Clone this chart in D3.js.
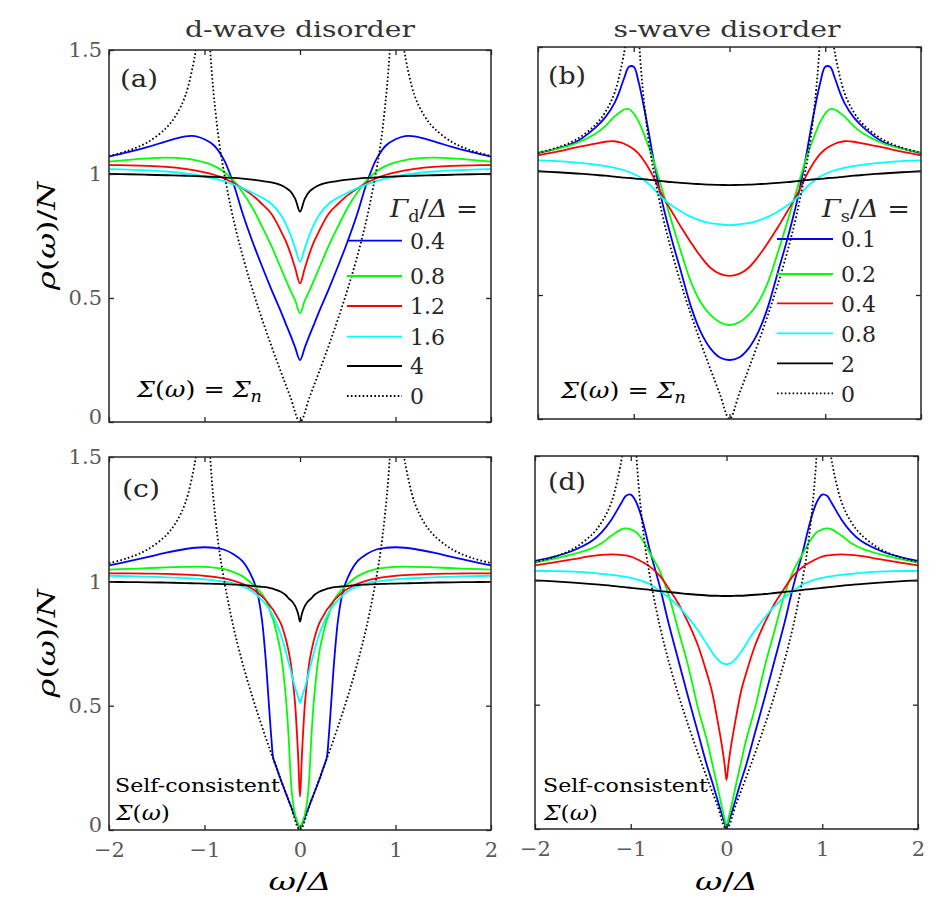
<!DOCTYPE html>
<html><head><meta charset="utf-8">
<script src="https://cdn.jsdelivr.net/npm/d3@7"></script>
<style>body{margin:0;background:#fff}svg{display:block}svg text{font-family:"DejaVu Serif",serif}</style>
</head><body>
<script>
// ---------------- DATA ----------------
const xTicks = [-2, -1, 0, 1, 2];
const yTicks = [0, 0.5, 1, 1.5];
const titles = ["d-wave disorder", "s-wave disorder"];
const legendA = ["0.4", "0.8", "1.2", "1.6", "4", "0"];
const legendB = ["0.1", "0.2", "0.4", "0.8", "2", "0"];
const seriesColors = ["#0000ff", "#00ff00", "#ff0000", "#00ffff", "#000000"];

// clean d-wave DOS (dotted, Gamma = 0), same in all panels
const omegaClean = [-2,-1.8,-1.6,-1.4,-1.3,-1.2,-1.1,-1.08,-1.05,-1.03,-0.97,-0.95,-0.93,-0.9,-0.85,-0.8,-0.7,-0.6,-0.5,-0.4,-0.3,-0.2,-0.1,0,0.1,0.2,0.3,0.4,0.5,0.6,0.7,0.8,0.85,0.9,0.93,0.95,0.97,1.03,1.05,1.08,1.1,1.2,1.3,1.4,1.6,1.8,2];
const rhoClean = [1.073,1.094,1.127,1.186,1.236,1.316,1.478,1.536,1.66,1.807,1.746,1.566,1.441,1.307,1.138,1.016,0.822,0.669,0.537,0.418,0.307,0.202,0.1,0,0.1,0.202,0.307,0.418,0.537,0.669,0.822,1.016,1.138,1.307,1.441,1.566,1.746,1.807,1.66,1.536,1.478,1.316,1.236,1.186,1.127,1.094,1.073];

// (a) d-wave disorder, Sigma = Sigma_n
const omegaA = [-2,-1.8,-1.6,-1.4,-1.2,-1.1,-1,-0.9,-0.8,-0.7,-0.6,-0.5,-0.4,-0.3,-0.2,-0.15,-0.1,-0.05,0,0.05,0.1,0.15,0.2,0.3,0.4,0.5,0.6,0.7,0.8,0.9,1,1.1,1.2,1.4,1.6,1.8,2];
const a_04 = [1.07,1.088,1.108,1.132,1.152,1.153,1.14,1.115,1.06,0.965,0.84,0.73,0.63,0.535,0.445,0.397,0.35,0.30,0.25,0.30,0.35,0.397,0.445,0.535,0.63,0.73,0.84,0.965,1.06,1.115,1.14,1.153,1.152,1.132,1.108,1.088,1.07];
const a_08 = [1.05,1.057,1.063,1.066,1.062,1.056,1.047,1.033,1.01,0.975,0.925,0.865,0.79,0.71,0.62,0.575,0.53,0.49,0.438,0.49,0.53,0.575,0.62,0.71,0.79,0.865,0.925,0.975,1.01,1.033,1.047,1.056,1.062,1.066,1.063,1.057,1.05];
const a_12 = [1.036,1.035,1.033,1.029,1.021,1.015,1.007,0.997,0.983,0.965,0.942,0.915,0.88,0.84,0.77,0.73,0.68,0.62,0.559,0.62,0.68,0.73,0.77,0.84,0.88,0.915,0.942,0.965,0.983,0.997,1.007,1.015,1.021,1.029,1.033,1.035,1.036];
const a_16 = [1.02,1.018,1.015,1.01,1.002,0.997,0.99,0.982,0.971,0.958,0.943,0.925,0.905,0.88,0.835,0.80,0.755,0.70,0.646,0.70,0.755,0.80,0.835,0.88,0.905,0.925,0.943,0.958,0.971,0.982,0.99,0.997,1.002,1.01,1.015,1.018,1.02];
const a_4 = [1.0,0.999,0.997,0.995,0.993,0.992,0.99,0.988,0.986,0.984,0.981,0.977,0.972,0.966,0.955,0.945,0.93,0.90,0.848,0.90,0.93,0.945,0.955,0.966,0.972,0.977,0.981,0.984,0.986,0.988,0.99,0.992,0.993,0.995,0.997,0.999,1.0];

// (b) s-wave disorder, Sigma = Sigma_n
const omegaB = [-2,-1.8,-1.6,-1.4,-1.3,-1.2,-1.15,-1.1,-1.05,-1,-0.95,-0.9,-0.85,-0.8,-0.7,-0.6,-0.5,-0.4,-0.3,-0.2,-0.1,0,0.1,0.2,0.3,0.4,0.5,0.6,0.7,0.8,0.85,0.9,0.95,1,1.05,1.1,1.15,1.2,1.3,1.4,1.6,1.8,2];
const b_01 = [1.072,1.091,1.118,1.175,1.215,1.275,1.32,1.375,1.42,1.42,1.36,1.27,1.17,1.06,0.87,0.72,0.585,0.45,0.35,0.285,0.248,0.238,0.248,0.285,0.35,0.45,0.585,0.72,0.87,1.06,1.17,1.27,1.36,1.42,1.42,1.375,1.32,1.275,1.215,1.175,1.118,1.091,1.072];
const b_02 = [1.075,1.09,1.112,1.15,1.18,1.22,1.235,1.248,1.25,1.232,1.2,1.155,1.105,1.05,0.92,0.79,0.665,0.55,0.47,0.42,0.39,0.379,0.39,0.42,0.47,0.55,0.665,0.79,0.92,1.05,1.105,1.155,1.2,1.232,1.25,1.248,1.235,1.22,1.18,1.15,1.112,1.09,1.075];
const b_04 = [1.063,1.078,1.095,1.11,1.118,1.12,1.116,1.11,1.1,1.088,1.07,1.045,1.015,0.98,0.9,0.835,0.77,0.71,0.655,0.61,0.585,0.577,0.585,0.61,0.655,0.71,0.77,0.835,0.9,0.98,1.015,1.045,1.07,1.088,1.1,1.11,1.116,1.12,1.118,1.11,1.095,1.078,1.063];
const b_08 = [1.043,1.04,1.034,1.026,1.02,1.013,1.008,1.003,0.996,0.988,0.978,0.965,0.95,0.932,0.89,0.86,0.836,0.815,0.8,0.79,0.785,0.782,0.785,0.79,0.8,0.815,0.836,0.86,0.89,0.932,0.95,0.965,0.978,0.988,0.996,1.003,1.008,1.013,1.02,1.026,1.034,1.04,1.043];
const b_2 = [0.999,0.995,0.99,0.984,0.981,0.977,0.975,0.973,0.972,0.97,0.968,0.967,0.965,0.963,0.959,0.955,0.952,0.949,0.947,0.945,0.944,0.943,0.944,0.945,0.947,0.949,0.952,0.955,0.959,0.963,0.965,0.967,0.968,0.97,0.972,0.973,0.975,0.977,0.981,0.984,0.99,0.995,0.999];

// (c) d-wave disorder, self-consistent
const omegaC = [-2,-1.8,-1.6,-1.4,-1.2,-1.1,-1,-0.9,-0.8,-0.7,-0.6,-0.5,-0.45,-0.4,-0.36,-0.33,-0.3,-0.28,-0.25,-0.2,-0.15,-0.12,-0.1,-0.08,-0.05,-0.02,0,0.02,0.05,0.08,0.1,0.12,0.15,0.2,0.25,0.28,0.3,0.33,0.36,0.4,0.45,0.5,0.6,0.7,0.8,0.9,1,1.1,1.2,1.4,1.6,1.8,2];
const c_04 = [1.064,1.08,1.097,1.115,1.13,1.135,1.137,1.135,1.128,1.11,1.08,1.015,0.96,0.85,0.69,0.53,0.37,0.29,0.256,0.2,0.15,0.12,0.1,0.08,0.05,0.02,0,0.02,0.05,0.08,0.1,0.12,0.15,0.2,0.256,0.29,0.37,0.53,0.69,0.85,0.96,1.015,1.08,1.11,1.128,1.135,1.137,1.135,1.13,1.115,1.097,1.08,1.064];
const c_08 = [1.047,1.05,1.053,1.056,1.058,1.059,1.058,1.055,1.05,1.038,1.02,0.99,0.97,0.95,0.925,0.9,0.865,0.845,0.8,0.71,0.54,0.38,0.23,0.13,0.06,0.025,0,0.025,0.06,0.13,0.23,0.38,0.54,0.71,0.8,0.845,0.865,0.9,0.925,0.95,0.97,0.99,1.02,1.038,1.05,1.055,1.058,1.059,1.058,1.056,1.053,1.05,1.047];
const c_12 = [1.032,1.032,1.031,1.03,1.027,1.025,1.022,1.018,1.012,1.003,0.99,0.97,0.957,0.94,0.925,0.91,0.895,0.885,0.865,0.83,0.77,0.72,0.68,0.62,0.5,0.3,0.134,0.3,0.5,0.62,0.68,0.72,0.77,0.83,0.865,0.885,0.895,0.91,0.925,0.94,0.957,0.97,0.99,1.003,1.012,1.018,1.022,1.025,1.027,1.03,1.031,1.032,1.032];
const c_16 = [1.022,1.021,1.019,1.016,1.013,1.011,1.008,1.004,0.999,0.992,0.98,0.96,0.945,0.925,0.908,0.893,0.875,0.86,0.835,0.785,0.72,0.675,0.645,0.615,0.57,0.535,0.512,0.535,0.57,0.615,0.645,0.675,0.72,0.785,0.835,0.86,0.875,0.893,0.908,0.925,0.945,0.96,0.98,0.992,0.999,1.004,1.008,1.011,1.013,1.016,1.019,1.021,1.022];
const c_4 = [0.998,0.997,0.996,0.995,0.993,0.992,0.991,0.99,0.989,0.987,0.985,0.982,0.98,0.978,0.977,0.975,0.972,0.97,0.966,0.958,0.945,0.932,0.925,0.918,0.9,0.87,0.838,0.87,0.9,0.918,0.925,0.932,0.945,0.958,0.966,0.97,0.972,0.975,0.977,0.978,0.98,0.982,0.985,0.987,0.989,0.99,0.991,0.992,0.993,0.995,0.996,0.997,0.998];

// (d) s-wave disorder, self-consistent
const omegaD = [-2,-1.8,-1.6,-1.4,-1.3,-1.2,-1.1,-1.05,-1,-0.95,-0.9,-0.85,-0.8,-0.7,-0.6,-0.5,-0.4,-0.3,-0.2,-0.15,-0.1,-0.05,-0.02,0,0.02,0.05,0.1,0.15,0.2,0.3,0.4,0.5,0.6,0.7,0.8,0.85,0.9,0.95,1,1.05,1.1,1.2,1.3,1.4,1.6,1.8,2];
const d_01 = [1.078,1.095,1.12,1.16,1.195,1.245,1.31,1.34,1.345,1.32,1.27,1.2,1.12,0.98,0.82,0.675,0.53,0.39,0.25,0.19,0.125,0.06,0.025,0,0.025,0.06,0.125,0.19,0.25,0.39,0.53,0.675,0.82,0.98,1.12,1.2,1.27,1.32,1.345,1.34,1.31,1.245,1.195,1.16,1.12,1.095,1.078];
const d_02 = [1.071,1.087,1.105,1.13,1.15,1.18,1.205,1.209,1.205,1.195,1.175,1.145,1.11,1.04,0.935,0.795,0.655,0.49,0.35,0.265,0.18,0.09,0.04,0.01,0.04,0.09,0.18,0.265,0.35,0.49,0.655,0.795,0.935,1.04,1.11,1.145,1.175,1.195,1.205,1.209,1.205,1.18,1.15,1.13,1.105,1.087,1.071];
const d_04 = [1.06,1.072,1.085,1.098,1.102,1.104,1.102,1.1,1.095,1.088,1.078,1.068,1.055,1.02,0.965,0.905,0.83,0.74,0.62,0.55,0.45,0.34,0.26,0.197,0.26,0.34,0.45,0.55,0.62,0.74,0.83,0.905,0.965,1.02,1.055,1.068,1.078,1.088,1.095,1.1,1.102,1.104,1.102,1.098,1.085,1.072,1.06];
const d_08 = [1.038,1.037,1.035,1.03,1.026,1.022,1.017,1.014,1.01,1.005,1.0,0.993,0.985,0.958,0.93,0.895,0.85,0.8,0.74,0.71,0.685,0.668,0.664,0.663,0.664,0.668,0.685,0.71,0.74,0.8,0.85,0.895,0.93,0.958,0.985,0.993,1.0,1.005,1.01,1.014,1.017,1.022,1.026,1.03,1.035,1.037,1.038];
const d_2 = [1.0,0.996,0.991,0.985,0.982,0.978,0.974,0.972,0.97,0.968,0.966,0.964,0.962,0.957,0.953,0.949,0.945,0.942,0.939,0.938,0.938,0.937,0.937,0.937,0.937,0.937,0.938,0.938,0.939,0.942,0.945,0.949,0.953,0.957,0.962,0.964,0.966,0.968,0.97,0.972,0.974,0.978,0.982,0.985,0.991,0.996,1.0];

// ---------------- DRAWING ----------------
const W = 945, H = 911;
const SERIF = "DejaVu Serif";
const DARK = "#262626";
const svg = d3.select("body").append("svg").attr("width", W).attr("height", H)
  .style("font-family", SERIF);

const panels = [
  {id:"a", x0:109, x1:491, y0:50, y1:422, omega:omegaA, series:[a_04,a_08,a_12,a_16,a_4], xlab:false, ylab:true, label:"(a)", lx:120, ly:87,
   legend:{labels:legendA, sub:"d", tx:390, ty:217, lx1:347, lx2:402, textX:410, rows:[240.7,276,306,336.7,366,396]},
   note:{type:"n", x:137, y:397}},
  {id:"b", x0:538, x1:921, y0:47, y1:419, omega:omegaB, series:[b_01,b_02,b_04,b_08,b_2], xlab:false, ylab:false, label:"(b)", lx:548, ly:84,
   legend:{labels:legendB, sub:"s", tx:822, ty:217, lx1:777, lx2:833, textX:841, rows:[239,274,303.3,333.3,363.3,393.3]},
   note:{type:"n", x:561, y:398}},
  {id:"c", x0:109, x1:491, y0:457, y1:830, omega:omegaC, series:[c_04,c_08,c_12,c_16,c_4], xlab:true, ylab:true, label:"(c)", lx:122, ly:497,
   note:{type:"sc", x:115, y:792}},
  {id:"d", x0:535, x1:918, y0:456, y1:829, omega:omegaD, series:[d_01,d_02,d_04,d_08,d_2], xlab:true, ylab:false, label:"(d)", lx:548, ly:490,
   note:{type:"sc", x:543, y:792}}
];

function drawPanel(p) {
  const x = d3.scaleLinear().domain([-2, 2]).range([p.x0, p.x1]);
  const y = d3.scaleLinear().domain([0, 1.5]).range([p.y1, p.y0]);
  const g = svg.append("g");
  const cid = "clip-" + p.id;
  svg.append("clipPath").attr("id", cid).append("rect")
    .attr("x", p.x0).attr("y", p.y0).attr("width", p.x1 - p.x0).attr("height", p.y1 - p.y0);

  const line = d3.line().x(d => x(d[0])).y(d => y(d[1])).curve(d3.curveCatmullRom.alpha(0.5));
  const cg = g.append("g").attr("clip-path", `url(#${cid})`);
  p.series.forEach((s, i) => {
    cg.append("path").datum(d3.zip(p.omega, s)).attr("d", line)
      .attr("fill", "none").attr("stroke", seriesColors[i]).attr("stroke-width", 1.8)
      .attr("stroke-linejoin", "round");
  });
  cg.append("path").datum(d3.zip(omegaClean, rhoClean)).attr("d", line)
    .attr("fill", "none").attr("stroke", "#000").attr("stroke-width", 1.8)
    .attr("stroke-dasharray", "1.6,2.3");

  // axes (ticks inward on all four sides)
  const fmtX = d3.format("d");
  const axes = [
    g.append("g").attr("transform", `translate(0,${p.y1})`)
      .call(d3.axisBottom(x).tickValues(xTicks).tickSize(-5).tickPadding(12).tickFormat(p.xlab ? fmtX : "")),
    g.append("g").attr("transform", `translate(0,${p.y0})`)
      .call(d3.axisTop(x).tickValues(xTicks).tickSize(-5).tickFormat("")),
    g.append("g").attr("transform", `translate(${p.x0},0)`)
      .call(d3.axisLeft(y).tickValues(yTicks).tickSize(-5).tickPadding(7).tickFormat(p.ylab ? (d => String(d)) : "")),
    g.append("g").attr("transform", `translate(${p.x1},0)`)
      .call(d3.axisRight(y).tickValues(yTicks).tickSize(-5).tickFormat(""))
  ];
  axes.forEach(a => {
    a.attr("font-family", null).attr("font-size", 21);
    a.select(".domain").remove();
    a.selectAll(".tick line").attr("stroke", DARK).attr("stroke-width", 1.3);
    a.selectAll(".tick text").attr("fill", "#5a5a5a").style("font-family", SERIF);
  });
  // lift the y-axis "0" label slightly so it clears the x-axis "−2" label
  axes[2].selectAll(".tick text").filter(d => d === 0).attr("dy", "0.05em");
  g.append("rect").attr("x", p.x0).attr("y", p.y0).attr("width", p.x1 - p.x0).attr("height", p.y1 - p.y0)
    .attr("fill", "none").attr("stroke", DARK).attr("stroke-width", 1.5);

  // panel label
  g.append("text").attr("x", p.lx).attr("y", p.ly).attr("font-size", 24).attr("fill", DARK)
    .attr("textLength", 38).attr("lengthAdjust", "spacingAndGlyphs").text(p.label);

  // annotation
  if (p.note.type === "n") {
    const t = g.append("text").attr("x", p.note.x).attr("y", p.note.y).attr("font-size", 23).attr("fill", "#000")
      .attr("textLength", 125).attr("lengthAdjust", "spacingAndGlyphs");
    t.append("tspan").attr("font-style", "italic").text("Σ");
    t.append("tspan").text("(");
    t.append("tspan").attr("font-style", "italic").text("ω");
    t.append("tspan").text(") = ");
    t.append("tspan").attr("font-style", "italic").text("Σ");
    t.append("tspan").attr("font-style", "italic").attr("font-size", 16).attr("dy", 5).text("n");
  } else {
    g.append("text").attr("x", p.note.x).attr("y", p.note.y).attr("font-size", 19).attr("fill", "#000")
      .attr("textLength", 165).attr("lengthAdjust", "spacingAndGlyphs").text("Self-consistent");
    const t = g.append("text").attr("x", p.note.x + 1).attr("y", p.note.y + 28).attr("font-size", 21).attr("fill", "#000")
      .attr("textLength", 54).attr("lengthAdjust", "spacingAndGlyphs");
    t.append("tspan").attr("font-style", "italic").text("Σ");
    t.append("tspan").text("(");
    t.append("tspan").attr("font-style", "italic").text("ω");
    t.append("tspan").text(")");
  }

  // legend
  if (p.legend) {
    const L = p.legend;
    const tt = g.append("text").attr("x", L.tx).attr("y", L.ty).attr("font-size", 24).attr("fill", DARK)
      .attr("textLength", 88).attr("lengthAdjust", "spacingAndGlyphs");
    tt.append("tspan").attr("font-style", "italic").text("Γ");
    tt.append("tspan").attr("font-size", 16).attr("dy", 5).text(L.sub);
    tt.append("tspan").attr("dy", -5).text("/");
    tt.append("tspan").attr("font-style", "italic").text("Δ");
    tt.append("tspan").text(" =");
    L.labels.forEach((lab, i) => {
      const yy = L.rows[i];
      const ln = g.append("line").attr("x1", L.lx1).attr("x2", L.lx2).attr("y1", yy).attr("y2", yy)
        .attr("stroke", i < 5 ? seriesColors[i] : "#000").attr("stroke-width", 1.8);
      if (i === 5) ln.attr("stroke-dasharray", "1.6,2.3");
      g.append("text").attr("x", L.textX).attr("y", yy + 8.3).attr("font-size", 22).attr("fill", DARK).text(lab);
    });
  }

  // axis labels
  if (p.ylab) {
    const cy = (p.y0 + p.y1) / 2;
    const t = svg.append("text").attr("transform", `translate(55,${cy}) rotate(-90)`)
      .attr("text-anchor", "middle").attr("font-size", 25).attr("fill", "#000")
      .attr("textLength", 108).attr("lengthAdjust", "spacingAndGlyphs");
    t.append("tspan").attr("font-style", "italic").text("ρ");
    t.append("tspan").text("(");
    t.append("tspan").attr("font-style", "italic").text("ω");
    t.append("tspan").text(")/");
    t.append("tspan").attr("font-style", "italic").text("N");
  }
  if (p.xlab) {
    const cx = (p.x0 + p.x1) / 2;
    const t = svg.append("text").attr("x", cx).attr("y", 890).attr("text-anchor", "middle")
      .attr("font-size", 25).attr("fill", "#000").attr("textLength", 63).attr("lengthAdjust", "spacingAndGlyphs");
    t.append("tspan").attr("font-style", "italic").text("ω");
    t.append("tspan").text("/");
    t.append("tspan").attr("font-style", "italic").text("Δ");
  }
}

panels.forEach(drawPanel);

// column titles
svg.append("text").attr("x", 300).attr("y", 36.7).attr("text-anchor", "middle").attr("font-size", 22)
  .attr("fill", "#333").attr("textLength", 230).attr("lengthAdjust", "spacingAndGlyphs").text(titles[0]);
svg.append("text").attr("x", 727).attr("y", 36.7).attr("text-anchor", "middle").attr("font-size", 22)
  .attr("fill", "#333").attr("textLength", 227).attr("lengthAdjust", "spacingAndGlyphs").text(titles[1]);
</script>
</body></html>
